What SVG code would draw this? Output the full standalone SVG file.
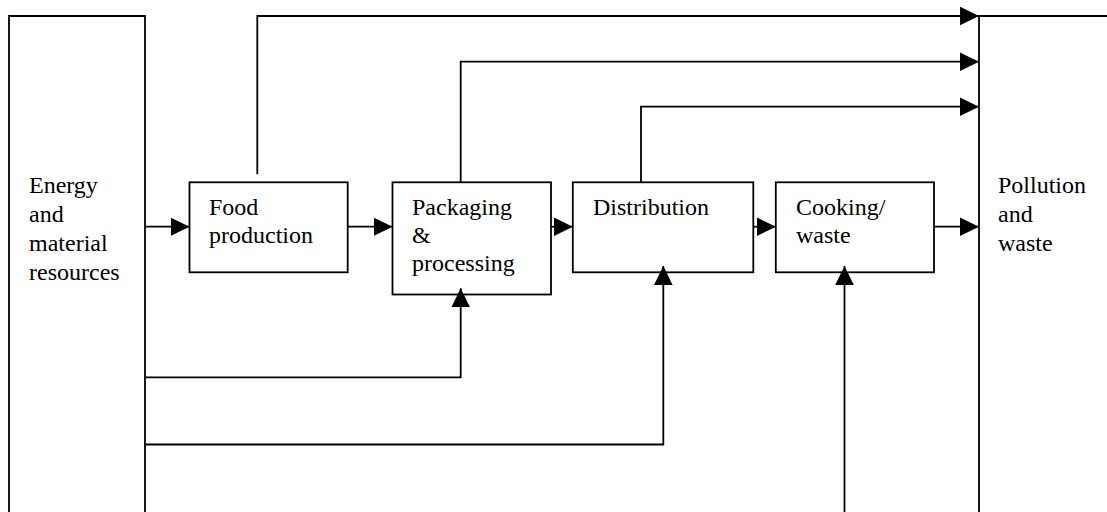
<svg xmlns="http://www.w3.org/2000/svg" width="1107" height="512" viewBox="0 0 1107 512">
  <style>
    .box { fill: #fff; stroke: #000; stroke-width: 1.8; }
    .edge { fill: none; stroke: #000; stroke-width: 1.8; }
    .wire { fill: none; stroke: #000; stroke-width: 1.8; marker-end: url(#head); }
    text { font-family: "Liberation Serif", "Times New Roman", serif; font-size: 24px; fill: #000; }
  </style>
  <defs>
    <marker id="head" markerUnits="userSpaceOnUse" markerWidth="20" markerHeight="20" refX="19" refY="9.3" orient="auto">
      <path d="M0,0 L19,9.3 L0,18.6 Z" fill="#000"/>
    </marker>
  </defs>
  <rect width="1107" height="512" fill="#fff"/>

  <!-- source column on the left -->
  <g id="resources">
    <path class="edge" d="M9,512 V16 H145 V512"/>
    <text x="29" y="193">Energy</text>
    <text x="29" y="222">and</text>
    <text x="29" y="251">material</text>
    <text x="29" y="280">resources</text>
  </g>

  <!-- sink column on the right -->
  <g id="pollution">
    <path class="edge" d="M979,512 V16 H1107"/>
    <text x="998" y="193">Pollution</text>
    <text x="998" y="222">and</text>
    <text x="998" y="251">waste</text>
  </g>

  <g id="food">
    <rect class="box" x="189.5" y="182.3" width="158.2" height="90"/>
    <text x="209" y="215">Food</text>
    <text x="209" y="243">production</text>
  </g>

  <g id="packaging">
    <rect class="box" x="392.5" y="182.3" width="158.5" height="112.2"/>
    <text x="412" y="215">Packaging</text>
    <text x="412" y="243">&amp;</text>
    <text x="412" y="271">processing</text>
  </g>

  <g id="distribution">
    <rect class="box" x="572.8" y="182.3" width="180.5" height="90"/>
    <text x="593" y="215">Distribution</text>
  </g>

  <g id="cooking">
    <rect class="box" x="775.8" y="182.3" width="158.2" height="90"/>
    <text x="796" y="215">Cooking/</text>
    <text x="796" y="243">waste</text>
  </g>

  <g id="connectors">
    <!-- main chain -->
    <path class="wire" d="M145,226.7 H189.5"/>
    <path class="wire" d="M347.7,226.7 H392.5"/>
    <path class="wire" d="M551,226.7 H572.8"/>
    <path class="wire" d="M753.3,226.7 H775.8"/>
    <path class="wire" d="M934,226.7 H979"/>
    <!-- emissions to the sink -->
    <path class="wire" d="M257.3,174.3 V16 H979"/>
    <path class="wire" d="M460.7,182.3 V61.7 H979"/>
    <path class="wire" d="M641,182.3 V106.7 H979"/>
    <!-- inputs from the source -->
    <path class="wire" d="M145,377.3 H460.7 V288.3"/>
    <path class="wire" d="M145,444.5 H663.3 V266"/>
    <path class="wire" d="M844.5,512 V266"/>
  </g>
</svg>
